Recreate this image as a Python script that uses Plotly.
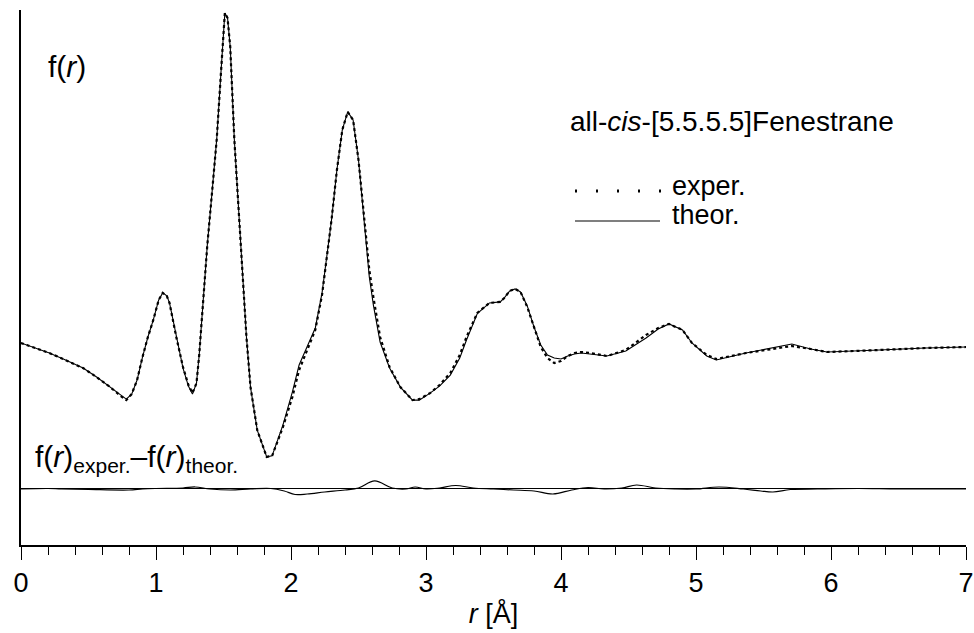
import plotly.graph_objects as go

# ---- data ----
r = [0.00, 0.10, 0.21, 0.33, 0.46, 0.56, 0.66, 0.74, 0.78, 0.82, 0.86, 0.90, 0.94, 0.98,
     1.02, 1.05, 1.08, 1.10, 1.15, 1.20, 1.24, 1.27, 1.30, 1.32, 1.35, 1.38, 1.42, 1.45,
     1.48, 1.50, 1.51, 1.53, 1.55, 1.58, 1.61, 1.64, 1.67, 1.70, 1.75, 1.82, 1.86, 1.94,
     2.01, 2.06, 2.12, 2.18, 2.23, 2.26, 2.30, 2.34, 2.38, 2.42, 2.46, 2.50, 2.54, 2.58,
     2.61, 2.66, 2.73, 2.81, 2.90, 2.95, 3.03, 3.10, 3.18, 3.25, 3.30, 3.38, 3.47, 3.55,
     3.58, 3.62, 3.66, 3.70, 3.75, 3.80, 3.85, 3.90, 3.95, 4.00, 4.05, 4.10, 4.15, 4.22,
     4.34, 4.48, 4.63, 4.72, 4.80, 4.90, 4.97, 5.08, 5.15, 5.37, 5.55, 5.71, 5.85, 5.97,
     6.36, 6.70, 7.00]

f_exper = [0.12, -0.03, -0.18, -0.39, -0.63, -0.90, -1.20, -1.47, -1.59, -1.41, -0.99, -0.30, 0.30, 0.81,
           1.41, 1.62, 1.53, 1.32, 0.30, -0.60, -1.14, -1.38, -1.08, -0.24, 1.41, 3.05, 4.85, 6.23,
           8.14, 9.49, 10.00, 9.85, 8.98, 6.23, 4.25, 2.31, 0.30, -1.20, -2.49, -3.29, -3.26, -2.40,
           -1.50, -0.69, -0.09, 0.51, 1.56, 2.54, 3.80, 5.30, 6.50, 7.04, 6.80, 5.60, 3.95, 2.31,
           1.50, 0.30, -0.60, -1.20, -1.59, -1.56, -1.38, -1.14, -0.78, -0.24, 0.30, 1.02, 1.32, 1.35,
           1.47, 1.68, 1.74, 1.65, 1.20, 0.57, 0.00, -0.33, -0.48, -0.42, -0.27, -0.18, -0.15, -0.18,
           -0.27, -0.09, 0.36, 0.57, 0.69, 0.51, 0.12, -0.24, -0.36, -0.18, -0.06, 0.03, -0.06, -0.15,
           -0.09, -0.03, 0.00]

f_theor = [0.12, -0.03, -0.18, -0.39, -0.63, -0.90, -1.20, -1.44, -1.56, -1.41, -0.99, -0.30, 0.30, 0.81,
           1.41, 1.62, 1.53, 1.32, 0.30, -0.63, -1.17, -1.41, -1.08, -0.24, 1.41, 3.05, 4.85, 6.23,
           8.14, 9.49, 10.00, 9.85, 8.98, 6.23, 4.25, 2.31, 0.30, -1.20, -2.49, -3.29, -3.26, -2.34,
           -1.35, -0.54, -0.00, 0.57, 1.62, 2.57, 3.80, 5.30, 6.50, 7.04, 6.80, 5.60, 3.86, 2.10,
           1.26, 0.15, -0.63, -1.20, -1.59, -1.59, -1.38, -1.17, -0.84, -0.33, 0.21, 1.00, 1.32, 1.35,
           1.47, 1.68, 1.74, 1.65, 1.23, 0.60, 0.06, -0.24, -0.33, -0.36, -0.27, -0.21, -0.18, -0.21,
           -0.27, -0.12, 0.27, 0.54, 0.69, 0.51, 0.12, -0.27, -0.39, -0.18, -0.03, 0.09, -0.06, -0.15,
           -0.09, -0.03, 0.00]

r_diff = [0.00, 0.20, 0.30, 0.50, 0.80, 0.90, 1.00, 1.20, 1.29, 1.40, 1.55, 1.70, 1.85, 1.95,
          2.03, 2.12, 2.25, 2.40, 2.50, 2.62, 2.75, 2.85, 2.92, 3.00, 3.10, 3.22, 3.35, 3.50,
          3.65, 3.80, 3.94, 4.08, 4.20, 4.32, 4.45, 4.56, 4.70, 4.85, 5.00, 5.17, 5.35, 5.48,
          5.57, 5.70, 5.90, 6.20, 6.50, 7.00]
f_diff = [0.000, 0.015, 0.000, -0.015, -0.030, 0.000, 0.015, 0.030, 0.060, 0.000, -0.030, 0.000, 0.015, -0.060,
          -0.165, -0.150, -0.090, -0.030, 0.030, 0.240, 0.030, 0.000, 0.060, 0.000, 0.030, 0.105, 0.030, 0.000,
          -0.030, -0.060, -0.150, -0.030, 0.045, 0.000, 0.030, 0.120, 0.030, 0.000, 0.000, 0.060, 0.000, -0.060,
          -0.090, -0.015, 0.000, 0.015, 0.000, 0.000]

x_ticks = [0, 1, 2, 3, 4, 5, 6, 7]
x_ticklabels = ["0", "1", "2", "3", "4", "5", "6", "7"]

FONT = "Liberation Sans, Arial, Helvetica, sans-serif"

fig = go.Figure()

fig.add_trace(go.Scatter(x=r, y=f_theor, mode="lines", name="theor.",
                         line=dict(color="black", width=1.1), showlegend=False))
fig.add_trace(go.Scatter(x=r, y=f_exper, mode="lines", name="exper.",
                         line=dict(color="black", width=2.2, dash="3px,3px"), showlegend=False))
fig.add_trace(go.Scatter(x=r_diff, y=f_diff, mode="lines", name="difference",
                         line=dict(color="black", width=1.2, shape="spline"), yaxis="y2",
                         showlegend=False))

W, H = 974, 633
L, R, T, B = 21, 8, 10, 88

fig.update_layout(
    width=W, height=H,
    margin=dict(l=L, r=R, t=T, b=B, autoexpand=False),
    paper_bgcolor="white", plot_bgcolor="white",
    font=dict(family=FONT, color="black", size=27),
    xaxis=dict(
        range=[0, 7], tickvals=x_ticks, ticktext=x_ticklabels,
        showline=True, linecolor="black", linewidth=1.5,
        ticks="outside", ticklen=13, tickwidth=1.2, tickcolor="black",
        minor=dict(dtick=0.2, ticks="outside", ticklen=8, tickwidth=1, tickcolor="black"),
        showgrid=False, zeroline=False, automargin=False,
        ticklabeloverflow="allow",
        tickfont=dict(size=27, family=FONT),
        title=dict(text="<i>r</i> [Å]", font=dict(size=27, family=FONT), standoff=7),
    ),
    yaxis=dict(
        range=[-5.928, 10.09], showline=True, linecolor="black", linewidth=1.5,
        showticklabels=False, ticks="", showgrid=False, zeroline=False, automargin=False,
    ),
    yaxis2=dict(
        range=[-1.677, 14.341], overlaying="y", showline=False, automargin=False,
        showticklabels=False, ticks="", showgrid=False,
        zeroline=True, zerolinecolor="black", zerolinewidth=1.2,
    ),
    showlegend=False,
)

def px_x(x):
    return (x - L) / (W - L - R)

def px_y(y):
    return (H - B - y) / (H - B - T)

ann = [
    dict(text="f(<i>r</i>)", x=px_x(46), y=px_y(67), size=30),
    dict(text="f(<i>r</i>)<sub>exper.</sub>–f(<i>r</i>)<sub>theor.</sub>", x=px_x(33), y=px_y(458), size=30),
    dict(text="all-<i>cis</i>-[5.5.5.5]Fenestrane", x=px_x(568), y=px_y(122), size=28),
    dict(text="exper.", x=px_x(670), y=px_y(186), size=27),
    dict(text="theor.", x=px_x(670), y=px_y(215), size=27),
]
for a in ann:
    fig.add_annotation(text=a["text"], x=a["x"], y=a["y"], xref="paper", yref="paper",
                       xanchor="left", yanchor="middle", showarrow=False,
                       font=dict(size=a["size"], family=FONT, color="black"))

# legend keys
fig.add_shape(type="line", xref="paper", yref="paper",
              x0=px_x(575), x1=px_x(662), y0=px_y(191), y1=px_y(191),
              line=dict(color="black", width=3, dash="2px,19px"))
fig.add_shape(type="line", xref="paper", yref="paper",
              x0=px_x(575), x1=px_x(660), y0=px_y(221), y1=px_y(221),
              line=dict(color="black", width=1.2))

fig.write_html(
    "out.html",
    config={"displayModeBar": False},
    post_script="document.body.style.margin='0';document.body.style.overflow='hidden';",
)
